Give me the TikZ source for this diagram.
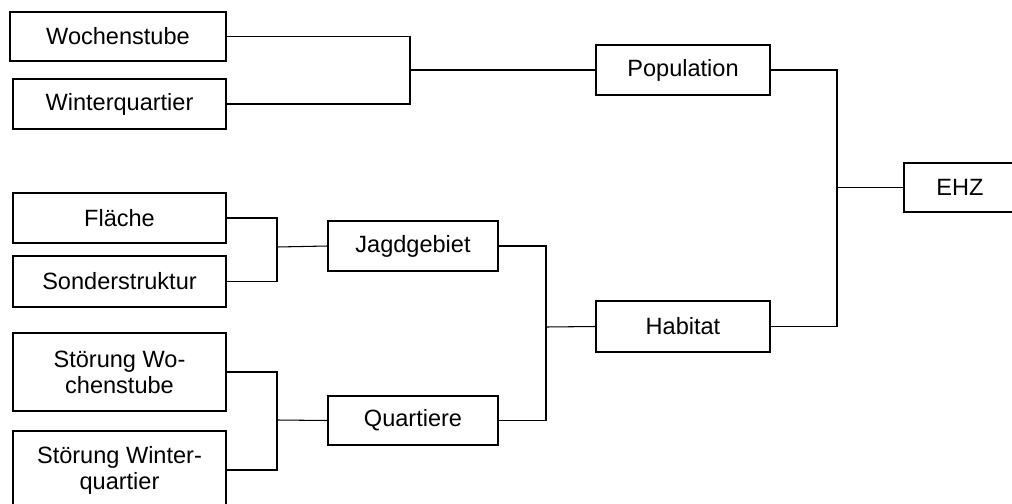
\documentclass[tikz,border=0pt]{standalone}
\usepackage{fontspec}
\setmainfont{Liberation Sans}
\usepackage{tikz}

\tikzset{box/.style={rectangle,draw=black,line width=0.7pt,inner sep=0pt,align=center,
  minimum width=4.26cm,minimum height=1cm,font=\fontsize{13.4}{14.8}\selectfont}}

\begin{document}
\begin{tikzpicture}[x=0.02cm,y=-0.02cm,line width=0.6pt]
\useasboundingbox (0,0) rectangle (1012,504);
\clip (0,0) rectangle (1012,504);
% left column
\node (woch) at (118,36.5) [box,minimum width=4.32cm,minimum height=0.98cm] {Wochenstube};
\node (wint) at (119.5,104) [box] {Winterquartier};
\node (flae) at (119.5,218) [box] {Fläche};
\node (sond) at (119.5,281.5) [box,minimum height=1.02cm] {Sonderstruktur};
\node (stwo) at (119.5,372) [box,minimum height=1.56cm] {Störung Wo-\\chenstube};
\node (stwi) at (119.5,470) [box,minimum height=1.56cm] {Störung Winter-\\quartier};
% middle
\node (jagd) at (413,246) [box,minimum width=3.4cm] {Jagdgebiet};
\node (quar) at (413,420.5) [box,minimum width=3.4cm,minimum height=0.98cm] {Quartiere};
\node (pop) at (683,70) [box,minimum width=3.48cm] {Population};
\node (hab) at (683,326.5) [box,minimum width=3.48cm,minimum height=1.02cm] {Habitat};
\node (ehz) at (960,187.5) [box,minimum width=2.24cm,minimum height=0.98cm] {EHZ};
% junctions
\coordinate (j1) at (410,70);
\coordinate (j2) at (277,247);
\coordinate (j3) at (277,420);
\coordinate (j4) at (546,327);
\coordinate (j5) at (837,187.5);
\draw (woch.east) -| (j1) |- (wint.east);
\draw (j1) -- (pop.west);
\draw (flae.east) -| (j2) |- (sond.east);
\draw (j2) -- (jagd.west);
\draw (stwo.east) -| (j3) |- (stwi.east);
\draw (j3) -- (quar.west);
\draw (jagd.east) -| (j4) |- (quar.east);
\draw (j4) -- (hab.west);
\draw (pop.east) -| (j5) |- (hab.east);
\draw (j5) -- (ehz.west);
\end{tikzpicture}
\end{document}
